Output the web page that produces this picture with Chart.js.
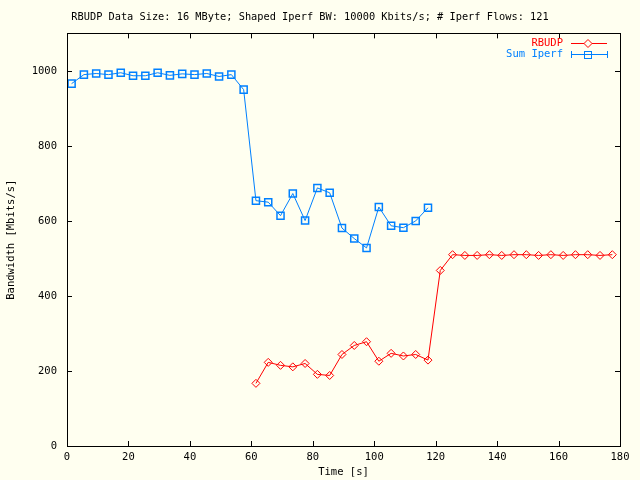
<!DOCTYPE html>
<html>
<head>
<meta charset="UTF-8">
<title>RBUDP / Iperf bandwidth</title>
<script src="https://cdn.jsdelivr.net/npm/chart.js"></script>
<style>
    body { margin: 0; background: #fffff0; }
    .chart-container { position: relative; width: 640px; height: 480px; }
</style>
</head>
<body>
<div class="chart-container"><canvas id="bwChart" width="640" height="480"></canvas></div>
<script>
// Sum Iperf (blue) samples
const iperfTime = [1.5, 5.5, 9.5, 13.5, 17.5, 21.5, 25.5, 29.5, 33.5, 37.5, 41.5, 45.5, 49.5, 53.5, 57.5,
                   61.5, 65.5, 69.5, 73.5, 77.5, 81.5, 85.5, 89.5, 93.5, 97.5, 101.5, 105.5, 109.5, 113.5, 117.5];
const iperfBw = [966, 990, 993, 990, 995, 987, 987, 995, 988, 992, 990, 993, 985, 990, 950,
                 654, 650, 614, 673, 601, 688, 675, 581, 553, 528, 637, 587, 582, 600, 635];

// RBUDP (red) samples
const rbudpTime = [61.5, 65.5, 69.5, 73.5, 77.5, 81.5, 85.5, 89.5, 93.5, 97.5, 101.5, 105.5, 109.5, 113.5, 117.5,
                   121.5, 125.5, 129.5, 133.5, 137.5, 141.5, 145.5, 149.5, 153.5, 157.5, 161.5, 165.5, 169.5, 173.5, 177.5];
const rbudpBw = [167, 223, 215, 211, 220, 191, 188, 244, 268, 278, 226, 247, 240, 244, 229,
                 468, 510, 508, 508, 510, 508, 510, 510, 508, 510, 508, 510, 510, 508, 510];

const xTicks = [0, 20, 40, 60, 80, 100, 120, 140, 160, 180];
const yTicks = [0, 200, 400, 600, 800, 1000];

const RED = '#ff0000';
const BLUE = '#0080ff';

Chart.defaults.font.family = "'DejaVu Sans Mono', monospace";
Chart.defaults.font.size = 10.5;
Chart.defaults.color = '#000';

// background, frame with inward ticks, legend like gnuplot
const gnuStyle = {
    id: 'gnuStyle',
    beforeDraw(chart) {
        const ctx = chart.ctx;
        ctx.save();
        ctx.fillStyle = '#fffff0';
        ctx.fillRect(0, 0, chart.width, chart.height);
        ctx.restore();
    },
    afterDraw(chart) {
        const ctx = chart.ctx;
        const a = chart.chartArea;
        const xs = chart.scales.x, ys = chart.scales.y;
        ctx.save();
        ctx.strokeStyle = '#000';
        ctx.lineWidth = 1;
        ctx.beginPath();
        xTicks.forEach(v => {
            const px = Math.round(xs.getPixelForValue(v)) + 0.5;
            ctx.moveTo(px, a.bottom); ctx.lineTo(px, a.bottom - 5);
            ctx.moveTo(px, a.top); ctx.lineTo(px, a.top + 5);
        });
        yTicks.forEach(v => {
            const py = Math.round(ys.getPixelForValue(v)) + 0.5;
            ctx.moveTo(a.left, py); ctx.lineTo(a.left + 5, py);
            ctx.moveTo(a.right, py); ctx.lineTo(a.right - 5, py);
        });
        ctx.stroke();
        ctx.strokeRect(Math.round(a.left) + 0.5, Math.round(a.top) + 0.5,
                       Math.round(a.right - a.left), Math.round(a.bottom - a.top));

        // legend
        ctx.textAlign = 'right';
        ctx.textBaseline = 'middle';
        ctx.font = "10.5px 'DejaVu Sans Mono'";
        ctx.fillStyle = RED;
        ctx.fillText('RBUDP', 563, 43);
        ctx.fillStyle = BLUE;
        ctx.fillText('Sum Iperf', 563, 54);

        ctx.lineWidth = 1;
        ctx.strokeStyle = RED;
        ctx.beginPath();
        ctx.moveTo(571, 43.5); ctx.lineTo(607, 43.5);
        ctx.stroke();
        ctx.beginPath();
        ctx.moveTo(588, 39.5); ctx.lineTo(592, 43.5); ctx.lineTo(588, 47.5); ctx.lineTo(584, 43.5); ctx.closePath();
        ctx.fillStyle = '#fffff0';
        ctx.fill();
        ctx.stroke();

        ctx.strokeStyle = BLUE;
        ctx.beginPath();
        ctx.moveTo(571.5, 51); ctx.lineTo(571.5, 58);
        ctx.moveTo(607.5, 51); ctx.lineTo(607.5, 58);
        ctx.moveTo(571, 54.5); ctx.lineTo(607, 54.5);
        ctx.stroke();
        ctx.strokeRect(584.5, 51.5, 7, 7);
        ctx.restore();
    }
};

const toPoints = (xs, ys) => xs.map((x, i) => ({ x: x, y: ys[i] }));

new Chart(document.getElementById('bwChart'), {
    type: 'line',
    data: {
        datasets: [{
            label: 'RBUDP',
            data: toPoints(rbudpTime, rbudpBw),
            borderColor: RED,
            backgroundColor: 'rgba(0,0,0,0)',
            borderWidth: 1,
            pointStyle: 'rectRot',
            pointRadius: 4,
            pointBorderWidth: 1,
            tension: 0
        }, {
            label: 'Sum Iperf',
            data: toPoints(iperfTime, iperfBw),
            borderColor: BLUE,
            backgroundColor: 'rgba(0,0,0,0)',
            borderWidth: 1,
            pointStyle: 'rect',
            pointRadius: 5,
            pointBorderWidth: 1.5,
            tension: 0
        }]
    },
    options: {
        responsive: false,
        animation: false,
        devicePixelRatio: 1,
        layout: { padding: { right: 20 } },
        plugins: {
            legend: { display: false },
            tooltip: { enabled: false },
            title: {
                display: true,
                text: 'RBUDP Data Size: 16 MByte; Shaped Iperf BW: 10000 Kbits/s; # Iperf Flows: 121',
                font: { size: 10.3, weight: 'normal', lineHeight: 1.2 },
                color: '#000',
                padding: { top: 11, bottom: 10 }
            }
        },
        scales: {
            x: {
                type: 'linear',
                min: 0,
                max: 180,
                afterFit: s => { s.height = 34; },
                grid: { display: false, drawTicks: false },
                border: { display: false },
                ticks: { stepSize: 20, padding: 5, maxRotation: 0, callback: v => String(v) },
                title: { display: true, text: 'Time [s]', padding: { top: 4, bottom: 1 } }
            },
            y: {
                min: 0,
                max: 1100,
                afterFit: s => { s.width = 67; },
                grid: { display: false, drawTicks: false },
                border: { display: false },
                ticks: { stepSize: 200, padding: 10, includeBounds: false, callback: v => String(v) },
                title: { display: true, text: 'Bandwidth [Mbits/s]', padding: { top: 5, bottom: 5 } }
            }
        }
    },
    plugins: [gnuStyle]
});
</script>
</body>
</html>
